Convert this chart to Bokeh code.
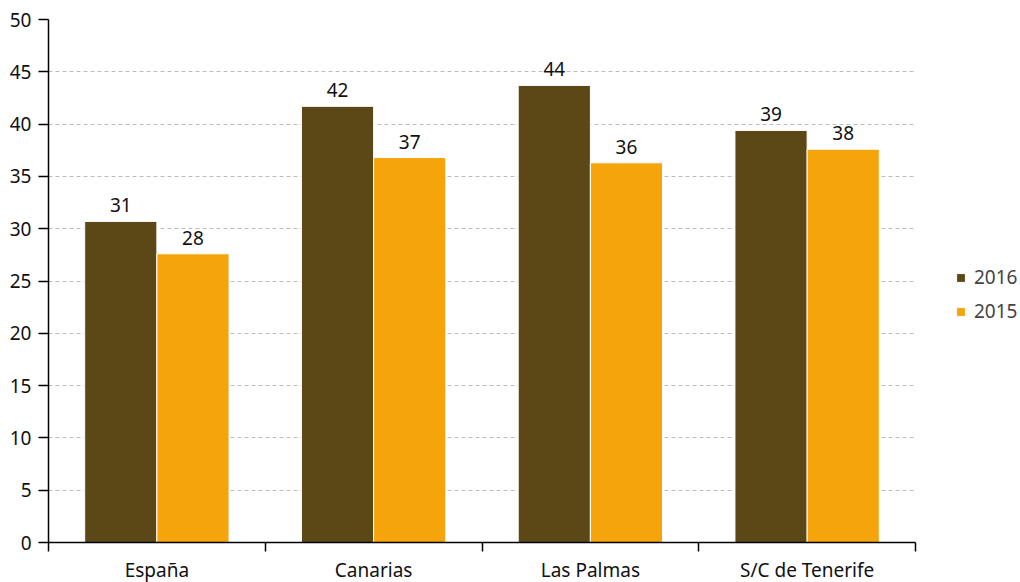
from bokeh.plotting import figure
from bokeh.models import (ColumnDataSource, Range1d, FixedTicker, Legend, LegendItem)
from bokeh.core.properties import value
from bokeh.embed import file_html
from bokeh.resources import INLINE

categories = ["España", "Canarias", "Las Palmas", "S/C de Tenerife"]
series_names = ["2016", "2015"]
values_2016 = [30.7, 41.7, 43.7, 39.4]
values_2015 = [27.6, 36.8, 36.3, 37.6]
colors = ["#5c4716", "#f5a40c"]
y_ticks = [0, 5, 10, 15, 20, 25, 30, 35, 40, 45, 50]

FONT = "Noto Sans"
FS = "19px"

p = figure(frame_width=867, frame_height=523, output_backend="svg", toolbar_location=None,
           x_range=Range1d(0, len(categories)), y_range=Range1d(0, 50),
           min_border_left=48, min_border_top=19, min_border_right=105,
           min_border_bottom=40)
p.outline_line_color = None
p.xgrid.visible = False
p.ygrid.grid_line_color = "#bdbdbd"
p.ygrid.grid_line_dash = "4 3"
p.ygrid.grid_line_width = 1

centers = [i + 0.5 for i in range(len(categories))]
bw = 0.333
offs = [-0.1665, 0.1665]
renderers = []
for vals, off, col in zip([values_2016, values_2015], offs, colors):
    src = ColumnDataSource(dict(x=[c + off for c in centers], top=vals,
                                lab=[str(int(round(v))) for v in vals]))
    r = p.vbar(x="x", top="top", width=bw, source=src, fill_color=col,
               line_color="white", line_width=1)
    renderers.append(r)
    p.text(x="x", y="top", text="lab", source=src, text_align="center",
           text_baseline="bottom", y_offset=-9, text_font=value(FONT),
           text_font_size=FS, text_color="#111111")

# x axis
xa = p.xaxis[0]
xa.ticker = FixedTicker(ticks=centers, minor_ticks=list(range(len(categories) + 1)))
xa.major_label_overrides = {c: n for c, n in zip(centers, categories)}
xa.major_tick_out = 0
xa.major_tick_in = 0
xa.minor_tick_out = 9
xa.minor_tick_in = 0
xa.minor_tick_line_color = "black"
xa.minor_tick_line_width = 1.5
xa.axis_line_width = 1.5
xa.axis_line_color = "black"
xa.major_label_standoff = 5
xa.major_label_text_font = FONT
xa.major_label_text_font_size = FS
xa.major_label_text_color = "#111111"

ya = p.yaxis[0]
ya.ticker = FixedTicker(ticks=y_ticks)
ya.major_tick_out = 10
ya.major_tick_in = 0
ya.minor_tick_out = 0
ya.minor_tick_in = 0
ya.major_tick_line_width = 1.5
ya.axis_line_width = 1.5
ya.axis_line_color = "black"
ya.major_label_standoff = 7
ya.major_label_text_font = FONT
ya.major_label_text_font_size = FS
ya.major_label_text_color = "#111111"

legend = Legend(items=[LegendItem(label=n, renderers=[r]) for n, r in zip(series_names, renderers)],
                location=(40, 218), border_line_color=None, background_fill_alpha=0,
                padding=0, margin=0,
                glyph_width=11, glyph_height=11, label_text_font=FONT,
                label_text_font_size=FS, spacing=8, label_standoff=8)
p.add_layout(legend, "right")

open("out.html", "w").write(file_html(p, INLINE))
